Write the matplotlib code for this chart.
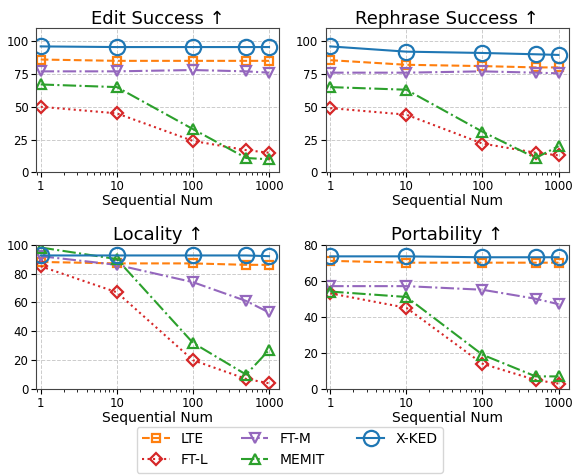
import numpy as np
import matplotlib
matplotlib.use("Agg")
import matplotlib.pyplot as plt

seq_num = [1, 10, 100, 500, 1000]
methods = ["LTE", "FT-L", "FT-M", "MEMIT", "X-KED"]

panel_titles = ["Edit Success \u2191", "Rephrase Success \u2191", "Locality \u2191", "Portability \u2191"]

edit_success = {
    "LTE":   [86, 85, 85, 85, 85],
    "FT-L":  [50, 45, 24, 17, 15],
    "FT-M":  [77, 77, 78, 77, 76],
    "MEMIT": [67, 65, 33, 11, 10],
    "X-KED": [96, 95.5, 95.5, 95.5, 95.5],
}
rephrase_success = {
    "LTE":   [85.5, 82, 81, 80, 80],
    "FT-L":  [49, 44, 22, 15, 13],
    "FT-M":  [76, 76, 77, 76, 75.5],
    "MEMIT": [65, 63, 31, 11, 20],
    "X-KED": [96, 92, 91, 90, 89.5],
}
locality = {
    "LTE":   [88, 87, 87, 86, 86],
    "FT-L":  [85, 67, 20, 7, 4],
    "FT-M":  [92, 86, 74, 61, 53],
    "MEMIT": [98, 90, 32, 10, 27],
    "X-KED": [92.5, 92.5, 92.5, 92.5, 92],
}
portability = {
    "LTE":   [71, 70, 70, 70, 70],
    "FT-L":  [53, 45, 14, 5, 3],
    "FT-M":  [57, 57, 55, 50, 47],
    "MEMIT": [54, 51, 19, 7, 7],
    "X-KED": [73.5, 73.5, 73, 73, 73],
}
panel_data = [edit_success, rephrase_success, locality, portability]
y_limits = [(0, 110), (0, 110), (0, 100), (0, 80)]
y_ticks = [[0, 25, 50, 75, 100], [0, 25, 50, 75, 100],
           [0, 20, 40, 60, 80, 100], [0, 20, 40, 60, 80]]

styles = {
    "LTE":   dict(color="#ff7f0e", ls="--", marker="s", ms=6),
    "FT-L":  dict(color="#d62728", ls=":", marker="D", ms=6),
    "FT-M":  dict(color="#9467bd", ls="-.", marker="v", ms=7),
    "MEMIT": dict(color="#2ca02c", ls="-.", marker="^", ms=7),
    "X-KED": dict(color="#1f77b4", ls="-", marker="o", ms=11),
}

fig, axes = plt.subplots(2, 2, figsize=(5.73, 4.75), dpi=100)
fig.subplots_adjust(left=0.063, right=0.993, top=0.941, bottom=0.181,
                    wspace=0.19, hspace=0.5)

for ax, title, data, ylim, yt in zip(axes.flat, panel_titles, panel_data, y_limits, y_ticks):
    for m in methods:
        st = styles[m]
        ax.plot(seq_num, data[m], color=st["color"], linestyle=st["ls"],
                marker=st["marker"], markersize=st["ms"], markerfacecolor="none",
                markeredgewidth=1.6, linewidth=1.5, label=m)
    ax.set_xscale("log")
    ax.set_xlim(0.87, 1370)
    ax.set_xticks(seq_num[:3] + [1000])
    ax.set_xticklabels(["1", "10", "100", "1000"])
    ax.set_ylim(*ylim)
    ax.set_yticks(yt)
    ax.tick_params(labelsize=8.5, pad=2)
    ax.set_title(title, fontsize=13, pad=3)
    ax.set_xlabel("Sequential Num", fontsize=10, labelpad=1)
    ax.grid(True, linestyle="--", color="#cccccc", linewidth=0.7)
    for sp in ax.spines.values():
        sp.set_color("#444444")

handles, labels = axes[0, 0].get_legend_handles_labels()
fig.legend(handles, labels, loc="lower center", ncol=3, fontsize=10,
           bbox_to_anchor=(0.506, -0.01), columnspacing=2.3, handlelength=2.0)

fig.savefig("out.png", dpi=100)
